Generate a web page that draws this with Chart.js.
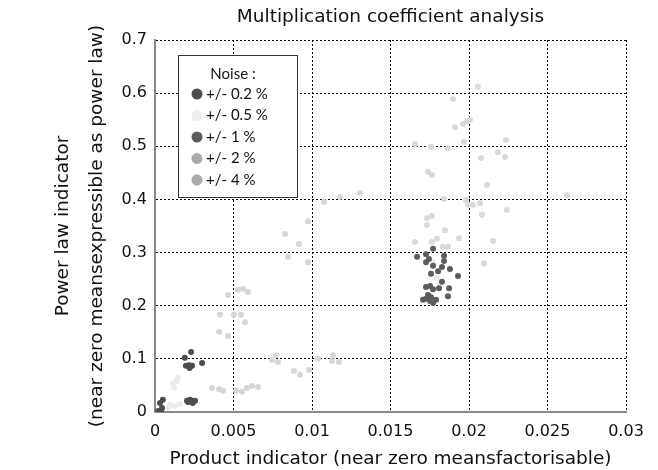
<!DOCTYPE html>
<html>
<head>
<meta charset="utf-8">
<script src="https://cdn.jsdelivr.net/npm/chart.js@4.4.1/dist/chart.umd.min.js"></script>
<style>
  html, body { margin: 0; padding: 0; background: #fff; }
</style>
</head>
<body>
<canvas id="chart" width="658" height="470"></canvas>
<script>
// series labels (legend order)
const seriesLabels = ["+/- 0.2 %", "+/- 0.5 %", "+/- 1 %", "+/- 2 %", "+/- 4 %"];

// tick values / labels
const xTickValues = [0, 0.005, 0.01, 0.015, 0.02, 0.025, 0.03];
const xTickLabels = ["0", "0.005", "0.01", "0.015", "0.02", "0.025", "0.03"];
const yTickValues = [0, 0.1, 0.2, 0.3, 0.4, 0.5, 0.6, 0.7];
const yTickLabels = ["0", "0.1", "0.2", "0.3", "0.4", "0.5", "0.6", "0.7"];

// noise +/- 0.2 %
const x02 = [0.00032, 0.0005, 0.00045, 0.0004, 0.0002, 0.00204, 0.00223, 0.00236, 0.00255, 0.0024, 0.0021,
  0.0019, 0.0023, 0.00197, 0.00217, 0.00236, 0.0022, 0.003];
const y02 = [0.017, 0.023, 0.0075, 0.0, 0.002, 0.021, 0.023, 0.021, 0.021, 0.017, 0.019,
  0.102, 0.113, 0.087, 0.088, 0.087, 0.083, 0.092];

// noise +/- 0.5 %
const x05 = [0.00115, 0.00121, 0.00134, 0.00146, 0.00096, 0.00127, 0.00159, 0.00083, 0.01771, 0.01796, 0.01815];
const y05 = [0.053, 0.045, 0.058, 0.064, 0.013, 0.011, 0.015, 0.008, 0.282, 0.252, 0.241];

// noise +/- 1 %
const x1 = [0.01771, 0.01669, 0.01726, 0.01726, 0.01745, 0.01841, 0.01841, 0.01771, 0.01828, 0.01879,
  0.01803, 0.01758, 0.0193, 0.01828, 0.01726, 0.01752, 0.01771, 0.01809, 0.01873, 0.01866,
  0.01726, 0.01752, 0.01771, 0.01739, 0.0179, 0.01707, 0.01758];
const y1 = [0.307, 0.292, 0.297, 0.282, 0.288, 0.294, 0.284, 0.275, 0.273, 0.269,
  0.265, 0.26, 0.256, 0.245, 0.235, 0.237, 0.231, 0.233, 0.233, 0.218,
  0.213, 0.209, 0.205, 0.22, 0.211, 0.211, 0.216];

// noise +/- 2 %
const x2 = [0.00771, 0.00745, 0.00783, 0.00885, 0.00924, 0.00981, 0.01038, 0.01134, 0.01127, 0.01172,
  0.00363, 0.00408, 0.00433, 0.00516, 0.00554, 0.00586, 0.00618, 0.00656,
  0.00465, 0.00529, 0.00561, 0.00592, 0.00414, 0.00503, 0.00548, 0.00573, 0.00408, 0.00465,
  0.01076, 0.00975, 0.00828, 0.00917, 0.00847, 0.00975];
const y2 = [0.107, 0.098, 0.094, 0.077, 0.07, 0.079, 0.1, 0.107, 0.096, 0.094,
  0.045, 0.043, 0.04, 0.04, 0.038, 0.045, 0.049, 0.047,
  0.22, 0.23, 0.232, 0.226, 0.183, 0.183, 0.183, 0.169, 0.151, 0.143,
  0.395, 0.359, 0.335, 0.316, 0.292, 0.282];

// noise +/- 4 %
const x4 = [0.02057, 0.01898, 0.01911, 0.01962, 0.01987, 0.02006, 0.01656, 0.01758, 0.01866, 0.01968,
  0.02236, 0.02076, 0.02185, 0.02229, 0.01739, 0.01764, 0.02115, 0.02624, 0.01178, 0.01306,
  0.01841, 0.01981, 0.01994, 0.02025, 0.0207, 0.02083, 0.02242, 0.01732, 0.01764, 0.01732,
  0.01847, 0.01656, 0.01764, 0.01796, 0.01834, 0.01866, 0.01936, 0.02153, 0.02095];
const y4 = [0.612, 0.589, 0.536, 0.542, 0.546, 0.55, 0.504, 0.499, 0.497, 0.508,
  0.512, 0.478, 0.489, 0.48, 0.452, 0.446, 0.427, 0.408, 0.405, 0.412,
  0.401, 0.399, 0.39, 0.39, 0.393, 0.371, 0.38, 0.365, 0.369, 0.352,
  0.342, 0.32, 0.32, 0.326, 0.311, 0.311, 0.327, 0.322, 0.28];

const pointColors = ["#4d4d4d", "#ebebeb", "#5c5c5c", "#d6d6d6", "#d9d9d9"];
const legendColors = ["#4d4d4d", "#efefef", "#5c5c5c", "#aaaaaa", "#aaaaaa"];

const axisFont = "'DejaVu Sans', Verdana, sans-serif";

function toPoints(xs, ys) {
  return xs.map((x, i) => ({ x: x, y: ys[i] }));
}

const seriesX = [x02, x05, x1, x2, x4];
const seriesY = [y02, y05, y1, y2, y4];

const datasets = seriesLabels.map((label, i) => ({
  label: label,
  data: toPoints(seriesX[i], seriesY[i]),
  backgroundColor: pointColors[i],
  borderWidth: 0,
  pointRadius: 3,
  order: (i === 0 || i === 2) ? 0 : 1,
}));

// legend box drawn inside the plot
const noiseLegend = {
  id: "noiseLegend",
  afterDraw(chart) {
    const ctx = chart.ctx;
    const bx = 178, by = 55, bw = 119, bh = 142;
    ctx.save();
    ctx.fillStyle = "#fff";
    ctx.fillRect(bx, by, bw, bh);
    ctx.strokeStyle = "#333";
    ctx.lineWidth = 1;
    ctx.strokeRect(bx + 0.5, by + 0.5, bw, bh);
    ctx.fillStyle = "#111";
    ctx.font = "15px Lato, 'Open Sans', sans-serif";
    ctx.textBaseline = "middle";
    ctx.textAlign = "center";
    ctx.fillText("Noise :", bx + 55, by + 19);
    ctx.textAlign = "left";
    chart.data.datasets.forEach((ds, i) => {
      const cy = by + 39 + i * 21.5;
      ctx.beginPath();
      ctx.arc(bx + 19, cy, 5.5, 0, Math.PI * 2);
      ctx.fillStyle = legendColors[i];
      ctx.fill();
      ctx.fillStyle = "#111";
      ctx.fillText(ds.label, bx + 28, cy);
    });
    ctx.restore();
  },
};

new Chart(document.getElementById("chart"), {
  type: "scatter",
  data: { datasets: datasets },
  options: {
    responsive: false,
    animation: false,
    layout: { padding: { top: 0, right: 32, bottom: 0, left: 0 } },
    scales: {
      x: {
        type: "linear",
        min: 0,
        max: 0.03,
        afterBuildTicks: (scale) => {
          scale.ticks = xTickValues.map((v) => ({ value: v }));
        },
        afterFit: (scale) => {
          scale.height = 58;
        },
        ticks: {
          color: "#111",
          padding: 10,
          maxRotation: 0,
          font: { family: axisFont, size: 16 },
          callback: (v, i) => xTickLabels[i],
        },
        grid: { color: "#000", lineWidth: 1, drawTicks: false, tickLength: 0 },
        border: { color: "#8a8a8a", width: 2, dash: [2, 2] },
        title: {
          display: true,
          text: "Product indicator (near zero meansfactorisable)",
          color: "#111",
          font: { family: axisFont, size: 18.5, lineHeight: 1.2 },
          padding: { top: 0, bottom: 0 },
        },
      },
      y: {
        type: "linear",
        min: 0,
        max: 0.7,
        afterBuildTicks: (scale) => {
          scale.ticks = yTickValues.map((v) => ({ value: v }));
        },
        afterFit: (scale) => {
          scale.width = 155;
        },
        ticks: {
          color: "#111",
          padding: 8,
          font: { family: axisFont, size: 16 },
          callback: (v, i) => yTickLabels[i],
        },
        grid: { color: "#000", lineWidth: 1, drawTicks: false, tickLength: 0 },
        border: { color: "#8a8a8a", width: 2, dash: [2, 2] },
        title: {
          display: true,
          text: ["Power law indicator", "(near zero meansexpressible as power law)"],
          color: "#111",
          font: { family: axisFont, size: 18.5, lineHeight: 1.85 },
          padding: { top: 46, bottom: 0 },
        },
      },
    },
    plugins: {
      legend: { display: false },
      tooltip: { enabled: false },
      title: {
        display: true,
        text: "Multiplication coefficient analysis",
        color: "#111",
        fullSize: false,
        font: { family: axisFont, size: 18.5, weight: "normal", lineHeight: 1.2 },
        padding: { top: 6, bottom: 11.8 },
      },
    },
  },
  plugins: [noiseLegend],
});
</script>
</body>
</html>
